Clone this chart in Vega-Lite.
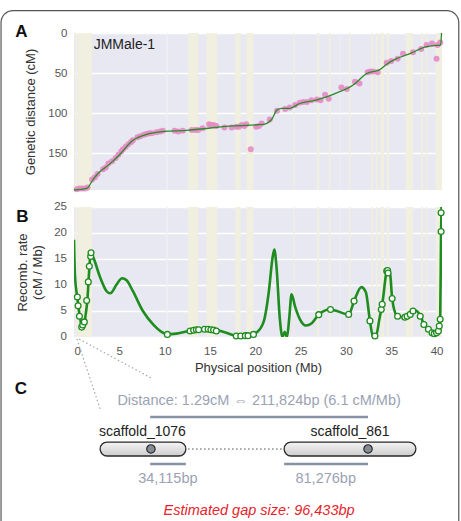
{
  "$schema": "https://vega.github.io/schema/vega-lite/v6.json",
  "autosize": {"type": "pad"},
  "padding": {"left": 0, "top": 9, "right": 0, "bottom": 0},
  "background": "white",
  "bounds": "flush",
  "spacing": 17,
  "resolve": {"scale": {"x": "independent", "y": "independent"}},
  "config": {
    "font": "Liberation Sans",
    "view": {"stroke": null},
    "axis": {
      "domain": false, "ticks": false, "tickSize": 0, "labelOverlap": false,
      "labelFont": "Liberation Sans", "labelFontSize": 11.5, "labelColor": "#555555",
      "titleFont": "Liberation Sans", "titleFontSize": 13, "titleFontWeight": "normal", "titleColor": "#333333",
      "gridColor": "#FFFFFF", "gridWidth": 1.4
    }
  },
  "datasets": {
    "rateTicks": [{"t": 0}, {"t": 5}, {"t": 10}, {"t": 15}, {"t": 20}, {"t": 25}],
    "bands": [
      {"start": 0.1, "end": 0.35, "kind": "y"},
      {"start": 0.45, "end": 2.0, "kind": "y"},
      {"start": 10.2, "end": 10.35, "kind": "w"},
      {"start": 12.6, "end": 13.7, "kind": "y"},
      {"start": 14.6, "end": 15.8, "kind": "y"},
      {"start": 17.8, "end": 18.4, "kind": "y"},
      {"start": 19.0, "end": 19.8, "kind": "y"},
      {"start": 24.2, "end": 24.35, "kind": "y"},
      {"start": 26.8, "end": 27.05, "kind": "y"},
      {"start": 28.1, "end": 28.3, "kind": "y"},
      {"start": 29.3, "end": 29.4, "kind": "w"},
      {"start": 30.3, "end": 30.5, "kind": "y"},
      {"start": 32.8, "end": 33.0, "kind": "y"},
      {"start": 33.3, "end": 33.5, "kind": "y"},
      {"start": 33.8, "end": 34.2, "kind": "y"},
      {"start": 34.5, "end": 34.8, "kind": "y"},
      {"start": 36.6, "end": 37.4, "kind": "y"},
      {"start": 38.3, "end": 38.5, "kind": "y"},
      {"start": 38.8, "end": 39.0, "kind": "y"},
      {"start": 39.9, "end": 40.6, "kind": "y"}
    ],
    "mapA": [
      {"mb": 0.3, "cm": 195}, {"mb": 0.6, "cm": 194}, {"mb": 0.9, "cm": 194}, {"mb": 1.2, "cm": 194}, {"mb": 1.5, "cm": 193},
      {"mb": 2.0, "cm": 183}, {"mb": 2.3, "cm": 180}, {"mb": 2.6, "cm": 176}, {"mb": 3.2, "cm": 170}, {"mb": 3.5, "cm": 168},
      {"mb": 3.8, "cm": 163}, {"mb": 4.2, "cm": 160}, {"mb": 4.6, "cm": 156}, {"mb": 4.9, "cm": 152}, {"mb": 5.2, "cm": 148},
      {"mb": 5.4, "cm": 145}, {"mb": 5.7, "cm": 142}, {"mb": 6.0, "cm": 139}, {"mb": 6.3, "cm": 136}, {"mb": 6.5, "cm": 134},
      {"mb": 7.0, "cm": 130}, {"mb": 7.3, "cm": 129}, {"mb": 7.7, "cm": 127}, {"mb": 8.0, "cm": 126}, {"mb": 8.3, "cm": 125},
      {"mb": 8.6, "cm": 125}, {"mb": 9.1, "cm": 124}, {"mb": 9.5, "cm": 123}, {"mb": 9.8, "cm": 122}, {"mb": 11.1, "cm": 122},
      {"mb": 11.5, "cm": 123}, {"mb": 12.0, "cm": 122}, {"mb": 13.0, "cm": 121}, {"mb": 13.4, "cm": 121}, {"mb": 13.7, "cm": 121},
      {"mb": 14.2, "cm": 119}, {"mb": 14.9, "cm": 114}, {"mb": 15.1, "cm": 115}, {"mb": 15.4, "cm": 115}, {"mb": 15.7, "cm": 116},
      {"mb": 16.6, "cm": 118}, {"mb": 17.4, "cm": 118}, {"mb": 17.9, "cm": 117}, {"mb": 18.2, "cm": 117}, {"mb": 18.5, "cm": 115},
      {"mb": 18.8, "cm": 116}, {"mb": 19.0, "cm": 114}, {"mb": 19.5, "cm": 145}, {"mb": 20.1, "cm": 117}, {"mb": 20.4, "cm": 116},
      {"mb": 20.7, "cm": 113}, {"mb": 21.6, "cm": 108}, {"mb": 22.4, "cm": 97}, {"mb": 23.3, "cm": 95}, {"mb": 23.8, "cm": 93},
      {"mb": 24.4, "cm": 90}, {"mb": 24.9, "cm": 87}, {"mb": 25.3, "cm": 86}, {"mb": 25.7, "cm": 86}, {"mb": 26.2, "cm": 84},
      {"mb": 26.8, "cm": 83}, {"mb": 27.2, "cm": 84}, {"mb": 27.7, "cm": 77}, {"mb": 28.1, "cm": 82}, {"mb": 29.5, "cm": 68},
      {"mb": 30.1, "cm": 70}, {"mb": 31.0, "cm": 61}, {"mb": 31.5, "cm": 63}, {"mb": 32.4, "cm": 49}, {"mb": 32.7, "cm": 48},
      {"mb": 33.0, "cm": 48}, {"mb": 33.5, "cm": 49}, {"mb": 34.5, "cm": 37}, {"mb": 35.0, "cm": 35}, {"mb": 35.7, "cm": 32},
      {"mb": 36.3, "cm": 26}, {"mb": 37.4, "cm": 24}, {"mb": 38.3, "cm": 20}, {"mb": 38.9, "cm": 15}, {"mb": 39.5, "cm": 13},
      {"mb": 40.0, "cm": 32}, {"mb": 40.1, "cm": 15}, {"mb": 40.4, "cm": 12}
    ],
    "lineA": [
      {"mb": 0, "cm": 196}, {"mb": 1.4, "cm": 194}, {"mb": 2.1, "cm": 183}, {"mb": 2.6, "cm": 176}, {"mb": 3.9, "cm": 164},
      {"mb": 5.1, "cm": 151}, {"mb": 6.5, "cm": 134}, {"mb": 7.6, "cm": 128}, {"mb": 9.1, "cm": 124}, {"mb": 12.4, "cm": 121.5},
      {"mb": 17.6, "cm": 116}, {"mb": 20.9, "cm": 114}, {"mb": 21.8, "cm": 108}, {"mb": 22.4, "cm": 96}, {"mb": 22.9, "cm": 94},
      {"mb": 23.8, "cm": 94}, {"mb": 24.9, "cm": 88}, {"mb": 26.8, "cm": 83.5}, {"mb": 28.6, "cm": 76.5}, {"mb": 30.8, "cm": 65},
      {"mb": 32.3, "cm": 50.5}, {"mb": 33.7, "cm": 46}, {"mb": 34.5, "cm": 39}, {"mb": 35.4, "cm": 33}, {"mb": 37.0, "cm": 26},
      {"mb": 38.9, "cm": 17}, {"mb": 40.0, "cm": 15.5}, {"mb": 40.45, "cm": 15}, {"mb": 40.55, "cm": 0}
    ],
    "rateLine": [
      {"mb": 0, "r": 18.7}, {"mb": 0.1, "r": 12}, {"mb": 0.37, "r": 7.5}, {"mb": 0.66, "r": 3.7}, {"mb": 0.9, "r": 2.0},
      {"mb": 1.1, "r": 2.3}, {"mb": 1.3, "r": 4.5}, {"mb": 1.47, "r": 7.0}, {"mb": 1.6, "r": 10.6}, {"mb": 1.7, "r": 13.5},
      {"mb": 1.85, "r": 16.2}, {"mb": 2.1, "r": 15.4}, {"mb": 2.9, "r": 11.4}, {"mb": 3.6, "r": 8.8}, {"mb": 4.0, "r": 8.4},
      {"mb": 4.7, "r": 10.1}, {"mb": 5.3, "r": 11.3}, {"mb": 5.8, "r": 10.9}, {"mb": 6.5, "r": 8.8}, {"mb": 7.6, "r": 5.0},
      {"mb": 8.75, "r": 2.4}, {"mb": 9.85, "r": 0.8}, {"mb": 10.3, "r": 0.5}, {"mb": 11.3, "r": 0.65}, {"mb": 12.8, "r": 1.2},
      {"mb": 13.9, "r": 1.5}, {"mb": 15.4, "r": 1.45}, {"mb": 16.8, "r": 0.8}, {"mb": 17.9, "r": 0.25}, {"mb": 19.4, "r": 0.35},
      {"mb": 20.1, "r": 0.8}, {"mb": 20.9, "r": 2.8}, {"mb": 21.5, "r": 8.8}, {"mb": 21.9, "r": 15.2}, {"mb": 22.1, "r": 16.8},
      {"mb": 22.35, "r": 13.3}, {"mb": 22.7, "r": 3.7}, {"mb": 23.0, "r": 0}, {"mb": 23.25, "r": 1.0}, {"mb": 23.5, "r": 0},
      {"mb": 23.75, "r": 3.7}, {"mb": 24.0, "r": 8.2}, {"mb": 24.4, "r": 5.8}, {"mb": 24.9, "r": 3.5}, {"mb": 25.6, "r": 2.2},
      {"mb": 26.2, "r": 2.6}, {"mb": 27.0, "r": 4.3}, {"mb": 28.2, "r": 5.3}, {"mb": 29.0, "r": 5.0}, {"mb": 30.3, "r": 4.3},
      {"mb": 30.9, "r": 6.9}, {"mb": 31.7, "r": 9.6}, {"mb": 32.2, "r": 8.6}, {"mb": 32.65, "r": 3.1}, {"mb": 33.0, "r": 0},
      {"mb": 33.3, "r": 0.1}, {"mb": 33.7, "r": 3.5}, {"mb": 33.9, "r": 5.3}, {"mb": 34.1, "r": 7.5}, {"mb": 34.5, "r": 12.6},
      {"mb": 34.7, "r": 12.9}, {"mb": 34.9, "r": 11.8}, {"mb": 35.1, "r": 7.4}, {"mb": 35.6, "r": 4.2}, {"mb": 36.3, "r": 3.8},
      {"mb": 37.2, "r": 4.8}, {"mb": 37.6, "r": 5.1}, {"mb": 38.2, "r": 4.2}, {"mb": 38.6, "r": 2.4}, {"mb": 39.1, "r": 1.5},
      {"mb": 39.5, "r": 0.8}, {"mb": 39.8, "r": 0.6}, {"mb": 40.1, "r": 0.9}, {"mb": 40.3, "r": 2.1}, {"mb": 40.4, "r": 3.4},
      {"mb": 40.5, "r": 20.3}, {"mb": 40.55, "r": 25}
    ],
    "ratePts": [
      {"mb": 0.37, "r": 7.7}, {"mb": 0.45, "r": 6.0}, {"mb": 0.6, "r": 4.0}, {"mb": 0.85, "r": 1.9}, {"mb": 0.96, "r": 2.3},
      {"mb": 1.14, "r": 2.9}, {"mb": 1.4, "r": 7.0}, {"mb": 1.58, "r": 10.6}, {"mb": 1.69, "r": 13.6}, {"mb": 1.84, "r": 15.5},
      {"mb": 1.88, "r": 16.2}, {"mb": 10.3, "r": 0.5}, {"mb": 12.8, "r": 1.15}, {"mb": 13.2, "r": 1.3}, {"mb": 13.5, "r": 1.4},
      {"mb": 13.75, "r": 1.4}, {"mb": 14.4, "r": 1.5}, {"mb": 14.8, "r": 1.5}, {"mb": 15.1, "r": 1.4}, {"mb": 15.4, "r": 1.35},
      {"mb": 15.7, "r": 1.15}, {"mb": 17.9, "r": 0.2}, {"mb": 18.4, "r": 0.2}, {"mb": 18.9, "r": 0.26}, {"mb": 19.2, "r": 0.26},
      {"mb": 19.8, "r": 0.5}, {"mb": 27.0, "r": 4.3}, {"mb": 28.3, "r": 5.3}, {"mb": 30.3, "r": 4.35}, {"mb": 30.9, "r": 6.9},
      {"mb": 32.65, "r": 3.1}, {"mb": 33.2, "r": 0.2}, {"mb": 33.9, "r": 5.3}, {"mb": 34.0, "r": 6.3}, {"mb": 34.5, "r": 12.7},
      {"mb": 34.6, "r": 12.8}, {"mb": 34.65, "r": 12.3}, {"mb": 35.1, "r": 7.4}, {"mb": 35.7, "r": 4.0}, {"mb": 36.5, "r": 3.8},
      {"mb": 36.75, "r": 4.0}, {"mb": 37.1, "r": 4.35}, {"mb": 37.4, "r": 5.0}, {"mb": 38.2, "r": 4.0}, {"mb": 38.6, "r": 2.4},
      {"mb": 39.1, "r": 1.5}, {"mb": 39.5, "r": 0.8}, {"mb": 39.75, "r": 0.64}, {"mb": 40.0, "r": 0.8}, {"mb": 40.2, "r": 1.15},
      {"mb": 40.3, "r": 2.1}, {"mb": 40.4, "r": 3.4}, {"mb": 40.5, "r": 20.3}, {"mb": 40.5, "r": 23.9}
    ]
  },
  "vconcat": [
    {
      "width": 368, "height": 157,
      "view": {"fill": "#E7E8F1", "stroke": null},
      "layer": [
        {
          "data": {"name": "bands"},
          "mark": {"type": "rect"},
          "encoding": {
            "x": {"field": "start", "type": "quantitative", "scale": {"domain": [0, 40.6], "nice": false, "zero": false}, "axis": null},
            "x2": {"field": "end"},
            "color": {"field": "kind", "type": "nominal", "scale": {"domain": ["y", "w"], "range": ["#F0EFE0", "#EFEFF5"]}, "legend": null}
          }
        },
        {
          "data": {"name": "mapA"},
          "mark": {"type": "circle", "size": 36, "color": "#E58AC4", "opacity": 0.9},
          "encoding": {
            "x": {"field": "mb", "type": "quantitative", "scale": {"domain": [0, 40.6], "nice": false, "zero": false}, "axis": null},
            "y": {"field": "cm", "type": "quantitative", "scale": {"domain": [0, 196], "reverse": true, "nice": false, "zero": false},
                  "axis": {"tickCount": 4, "labelOverlap": false, "title": "Genetic distance (cM)", "grid": true, "labelPadding": 7, "titlePadding": 10}}
          }
        },
        {
          "data": {"name": "lineA"},
          "mark": {"type": "line", "interpolate": "monotone", "color": "#2A8A2A", "strokeWidth": 1.3},
          "encoding": {
            "x": {"field": "mb", "type": "quantitative", "scale": {"domain": [0, 40.6], "nice": false, "zero": false}, "axis": null},
            "y": {"field": "cm", "type": "quantitative", "scale": {"domain": [0, 196], "reverse": true, "nice": false, "zero": false},
                  "axis": {"tickCount": 4, "labelOverlap": false, "title": "Genetic distance (cM)", "grid": true, "labelPadding": 7, "titlePadding": 10}}
          }
        },
        {
          "data": {"values": [{}]},
          "mark": {"type": "text", "align": "left", "baseline": "middle", "fontSize": 14, "color": "#222222"},
          "encoding": {
            "x": {"datum": 2.17, "type": "quantitative"},
            "y": {"datum": 15.6, "type": "quantitative"},
            "text": {"value": "JMMale-1"}
          }
        },
        {
          "data": {"values": [{}]},
          "mark": {"type": "text", "align": "center", "baseline": "middle", "fontSize": 17, "fontWeight": "bold", "color": "#111111", "clip": false},
          "encoding": {
            "x": {"datum": -5.8, "type": "quantitative"},
            "y": {"datum": -1.2, "type": "quantitative"},
            "text": {"value": "A"}
          }
        },
        {
          "data": {"values": [{}]},
          "mark": {"type": "rect", "fill": "#FFFFFF", "fillOpacity": 0, "stroke": "#555555", "strokeWidth": 1.2, "cornerRadius": 12, "clip": false},
          "encoding": {
            "x": {"datum": -8.05, "type": "quantitative"},
            "x2": {"datum": 42.45},
            "y": {"datum": -28, "type": "quantitative"},
            "y2": {"datum": 640}
          }
        }
      ]
    },
    {
      "width": 368, "height": 130,
      "view": {"fill": "#E7E8F1", "stroke": null},
      "layer": [
        {
          "data": {"name": "bands"},
          "mark": {"type": "rect"},
          "encoding": {
            "x": {"field": "start", "type": "quantitative", "scale": {"domain": [0, 40.6], "nice": false, "zero": false},
                  "axis": {"tickCount": 9, "labelOverlap": false, "title": "Physical position (Mb)", "grid": false, "labelPadding": 8, "titlePadding": 5}},
            "x2": {"field": "end"},
            "color": {"field": "kind", "type": "nominal", "scale": {"domain": ["y", "w"], "range": ["#F0EFE0", "#EFEFF5"]}, "legend": null}
          }
        },
        {
          "data": {"name": "rateLine"},
          "mark": {"type": "line", "interpolate": "monotone", "color": "#1E8C1E", "strokeWidth": 2.6, "clip": true},
          "encoding": {
            "x": {"field": "mb", "type": "quantitative", "scale": {"domain": [0, 40.6], "nice": false, "zero": false}},
            "y": {"field": "r", "type": "quantitative", "scale": {"domain": [0, 25], "nice": false, "zero": false},
                  "axis": {"tickCount": 6, "labels": false, "title": ["Recomb. rate", "(cM / Mb)"], "titleLineHeight": 15, "grid": true, "titlePadding": 30}}
          }
        },
        {
          "data": {"name": "ratePts"},
          "mark": {"type": "circle", "size": 34, "fill": "#FFFFFF", "stroke": "#1E8C1E", "strokeWidth": 1.3, "opacity": 1},
          "encoding": {
            "x": {"field": "mb", "type": "quantitative", "scale": {"domain": [0, 40.6], "nice": false, "zero": false}},
            "y": {"field": "r", "type": "quantitative", "scale": {"domain": [0, 25], "nice": false, "zero": false},
                  "axis": {"tickCount": 6, "labels": false, "title": ["Recomb. rate", "(cM / Mb)"], "titleLineHeight": 15, "grid": true, "titlePadding": 30}}
          }
        },
        {
          "data": {"name": "rateTicks"},
          "mark": {"type": "text", "align": "right", "baseline": "middle", "fontSize": 11.5, "color": "#555555", "clip": false},
          "encoding": {
            "x": {"datum": -0.77, "type": "quantitative"},
            "y": {"field": "t", "type": "quantitative"},
            "text": {"field": "t", "type": "quantitative"}
          }
        },
        {
          "data": {"values": [{}]},
          "mark": {"type": "text", "align": "center", "baseline": "middle", "fontSize": 17, "fontWeight": "bold", "color": "#111111", "clip": false},
          "encoding": {
            "x": {"datum": -5.7, "type": "quantitative"},
            "y": {"datum": 23.1, "type": "quantitative"},
            "text": {"value": "B"}
          }
        }
      ]
    },
    {
      "width": 368, "height": 168,
      "view": {"fill": null, "stroke": null},
      "encoding": {
        "x": {"type": "quantitative", "scale": {"domain": [0, 100], "nice": false, "zero": false}, "axis": null},
        "y": {"type": "quantitative", "scale": {"domain": [0, 100], "reverse": true, "nice": false, "zero": false}, "axis": null}
      },
      "layer": [
        {
          "data": {"values": [{}]},
          "mark": {"type": "rule", "color": "#A0A0A0", "strokeWidth": 1.1, "strokeDash": [1.5, 2.5], "clip": false},
          "encoding": {"x": {"datum": 0.8, "type": "quantitative"}, "y": {"datum": -8.9, "type": "quantitative"}, "x2": {"datum": 7.1}, "y2": {"datum": 32.7}}
        },
        {
          "data": {"values": [{}]},
          "mark": {"type": "rule", "color": "#A0A0A0", "strokeWidth": 1.1, "strokeDash": [1.5, 2.5], "clip": false},
          "encoding": {"x": {"datum": 1.4, "type": "quantitative"}, "y": {"datum": -8.9, "type": "quantitative"}, "x2": {"datum": 21.5}, "y2": {"datum": 14.9}}
        },
        {
          "data": {"values": [{}]},
          "mark": {"type": "text", "align": "center", "baseline": "middle", "fontSize": 17, "fontWeight": "bold", "color": "#111111", "clip": false},
          "encoding": {"x": {"datum": -14.4, "type": "quantitative"}, "y": {"datum": 20.8, "type": "quantitative"}, "text": {"value": "C"}}
        },
        {
          "data": {"values": [{}]},
          "mark": {"type": "text", "align": "center", "baseline": "middle", "fontSize": 14.5, "color": "#9AA2B3"},
          "encoding": {"x": {"datum": 50.3, "type": "quantitative"}, "y": {"datum": 28.0, "type": "quantitative"}, "text": {"value": "Distance: 1.29cM ⇔ 211,824bp (6.1 cM/Mb)"}}
        },
        {
          "data": {"values": [{}]},
          "mark": {"type": "rule", "color": "#8691A3", "strokeWidth": 2.6},
          "encoding": {"x": {"datum": 20.7, "type": "quantitative"}, "x2": {"datum": 79.9}, "y": {"datum": 37.5, "type": "quantitative"}}
        },
        {
          "data": {"values": [{}]},
          "mark": {"type": "text", "align": "center", "baseline": "middle", "fontSize": 14, "color": "#222222"},
          "encoding": {"x": {"datum": 18.6, "type": "quantitative"}, "y": {"datum": 46.4, "type": "quantitative"}, "text": {"value": "scaffold_1076"}}
        },
        {
          "data": {"values": [{}]},
          "mark": {"type": "text", "align": "center", "baseline": "middle", "fontSize": 14, "color": "#222222"},
          "encoding": {"x": {"datum": 75.0, "type": "quantitative"}, "y": {"datum": 46.4, "type": "quantitative"}, "text": {"value": "scaffold_861"}}
        },
        {
          "data": {"values": [{}]},
          "mark": {"type": "rule", "color": "#8A8A8A", "strokeWidth": 1.5, "strokeDash": [1.5, 2.5]},
          "encoding": {"x": {"datum": 31.0, "type": "quantitative"}, "x2": {"datum": 56.5}, "y": {"datum": 56.5, "type": "quantitative"}}
        },
        {
          "data": {"values": [{}]},
          "mark": {"type": "rect", "cornerRadius": 7, "stroke": "#2A2A2A", "strokeWidth": 1.3,
                   "fill": {"gradient": "linear", "x1": 0, "y1": 0, "x2": 0, "y2": 1, "stops": [{"offset": 0, "color": "#F4F4F4"}, {"offset": 1, "color": "#CDCDCD"}]}},
          "encoding": {"x": {"datum": 7.1, "type": "quantitative"}, "x2": {"datum": 30.4}, "y": {"datum": 52.4, "type": "quantitative"}, "y2": {"datum": 60.7}}
        },
        {
          "data": {"values": [{}]},
          "mark": {"type": "rect", "cornerRadius": 7, "stroke": "#2A2A2A", "strokeWidth": 1.3,
                   "fill": {"gradient": "linear", "x1": 0, "y1": 0, "x2": 0, "y2": 1, "stops": [{"offset": 0, "color": "#F4F4F4"}, {"offset": 1, "color": "#CDCDCD"}]}},
          "encoding": {"x": {"datum": 57.1, "type": "quantitative"}, "x2": {"datum": 92.9}, "y": {"datum": 52.4, "type": "quantitative"}, "y2": {"datum": 60.7}}
        },
        {
          "data": {"values": [{}]},
          "mark": {"type": "circle", "size": 70, "fill": "#868B94", "stroke": "#2A2A2A", "strokeWidth": 1.2, "opacity": 1},
          "encoding": {"x": {"datum": 20.9, "type": "quantitative"}, "y": {"datum": 56.5, "type": "quantitative"}}
        },
        {
          "data": {"values": [{}]},
          "mark": {"type": "circle", "size": 70, "fill": "#868B94", "stroke": "#2A2A2A", "strokeWidth": 1.2, "opacity": 1},
          "encoding": {"x": {"datum": 79.9, "type": "quantitative"}, "y": {"datum": 56.5, "type": "quantitative"}}
        },
        {
          "data": {"values": [{}]},
          "mark": {"type": "rule", "color": "#8691A3", "strokeWidth": 2.6},
          "encoding": {"x": {"datum": 20.7, "type": "quantitative"}, "x2": {"datum": 30.4}, "y": {"datum": 65.5, "type": "quantitative"}}
        },
        {
          "data": {"values": [{}]},
          "mark": {"type": "rule", "color": "#8691A3", "strokeWidth": 2.6},
          "encoding": {"x": {"datum": 57.1, "type": "quantitative"}, "x2": {"datum": 79.9}, "y": {"datum": 65.5, "type": "quantitative"}}
        },
        {
          "data": {"values": [{}]},
          "mark": {"type": "text", "align": "center", "baseline": "middle", "fontSize": 14.5, "color": "#9AA2B3"},
          "encoding": {"x": {"datum": 25.5, "type": "quantitative"}, "y": {"datum": 74.4, "type": "quantitative"}, "text": {"value": "34,115bp"}}
        },
        {
          "data": {"values": [{}]},
          "mark": {"type": "text", "align": "center", "baseline": "middle", "fontSize": 14.5, "color": "#9AA2B3"},
          "encoding": {"x": {"datum": 68.4, "type": "quantitative"}, "y": {"datum": 74.4, "type": "quantitative"}, "text": {"value": "81,276bp"}}
        },
        {
          "data": {"values": [{}]},
          "mark": {"type": "text", "align": "center", "baseline": "middle", "fontSize": 14.5, "fontStyle": "italic", "color": "#E8222B"},
          "encoding": {"x": {"datum": 50.3, "type": "quantitative"}, "y": {"datum": 93.5, "type": "quantitative"}, "text": {"value": "Estimated gap size: 96,433bp"}}
        }
      ]
    }
  ]
}
